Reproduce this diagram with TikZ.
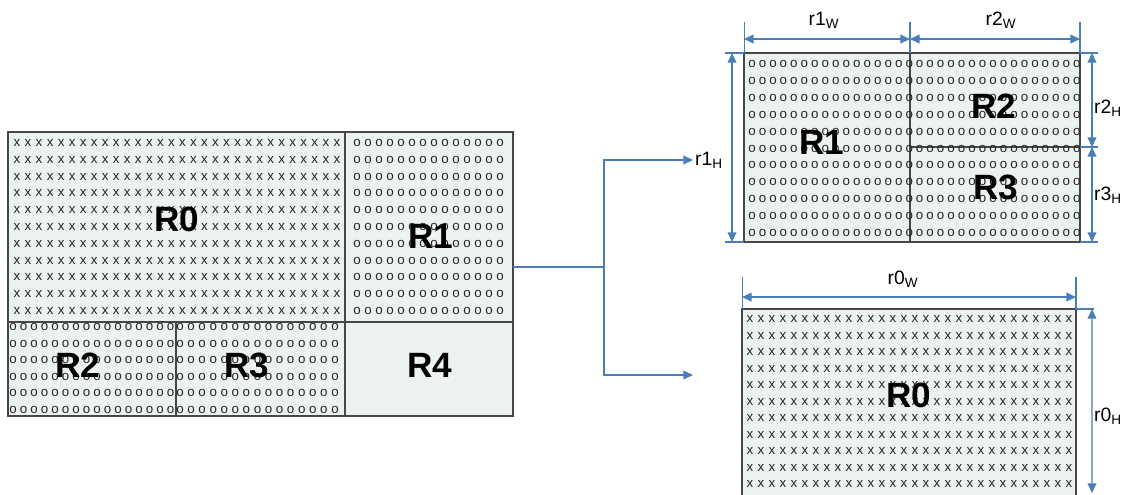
\documentclass[tikz,border=0pt]{standalone}
\usepackage{fontspec}
\setmainfont{Liberation Sans}
\usetikzlibrary{arrows.meta,positioning}
\definecolor{cellfill}{HTML}{ECF1F1}
\definecolor{cellline}{HTML}{474747}
\definecolor{dimblue}{HTML}{4A7EBB}

\begin{document}
\begin{tikzpicture}[
  x=0.02cm, y=-0.02cm,
  region/.style={draw=cellline, line width=1pt, fill=cellfill, inner sep=0pt, outer sep=0pt},
  glyph/.style={inner sep=0pt, font=\fontsize{7.6}{8}\selectfont, text=black!85},
  big/.style={font=\fontsize{20}{22}\selectfont\bfseries, inner sep=0pt},
  dimtext/.style={font=\fontsize{11}{13}\selectfont, inner sep=1pt},
  ext/.style={draw=dimblue, line width=0.6pt},
  dim/.style={draw=dimblue, line width=0.8pt, {Triangle[length=5.5pt,width=5pt]}-{Triangle[length=5.5pt,width=5pt]}},
  link/.style={draw=dimblue, line width=0.8pt},
  arrow/.style={link, -{Triangle[length=5.5pt,width=5pt]}},
]
\clip (0,0) rectangle (1124,494);

% === Whole region (left) ===
\node[region, minimum width=6.74cm, minimum height=3.8cm] (L0) at (176.5,227) {};
\node[region, minimum width=3.36cm, minimum height=3.8cm] (L1) at (429,227) {};
\node[region, minimum width=3.36cm, minimum height=1.88cm] (L2) at (92,369) {};
\node[region, minimum width=3.38cm, minimum height=1.88cm] (L3) at (260.5,369) {};
\node[region, minimum width=3.36cm, minimum height=1.88cm] (L4) at (429,369) {};

\foreach \i in {0,...,29} \foreach \j in {0,...,10}
  \node[glyph] (a-\i-\j) at ({17+\i*11.03},{143+\j*16.8}) {x};
\foreach \i in {0,...,13} \foreach \j in {0,...,10}
  \node[glyph] (b-\i-\j) at ({357+\i*11},{143+\j*16.8}) {o};
\foreach \i in {0,...,15} \foreach \j in {0,...,5}
  \node[glyph] (c-\i-\j) at ({13+\i*10.5},{327+\j*16.6}) {o};
\foreach \i in {0,...,14} \foreach \j in {0,...,5}
  \node[glyph] (d-\i-\j) at ({180+\i*11.07},{327+\j*16.6}) {o};

\node[big] (l0) at (177,219) {R0};
\node[big] (l1) at (431,236) {R1};
\node[big] (l2) at (78,365) {R2};
\node[big] (l3) at (247,365) {R3};
\node[big] (l4) at (430,365) {R4};

% === Split R1 (top right) ===
\node[region, minimum width=3.32cm, minimum height=3.78cm] (T1) at (827,147.5) {};
\node[region, minimum width=3.40cm, minimum height=1.88cm] (T2) at (995,100) {};
\node[region, minimum width=3.40cm, minimum height=1.90cm] (T3) at (995,194.5) {};

\foreach \i in {0,...,31} \foreach \j in {0,...,10}
  \node[glyph] (e-\i-\j) at ({752+\i*10.48},{64+\j*16.9}) {o};

\node[big] (t1) at (822,142) {R1};
\node[big] (t2) at (994,106) {R2};
\node[big] (t3) at (996,187) {R3};

\draw[ext] (T1.north west) -- ++(0,-31);
\draw[ext] (T1.north east) -- ++(0,-31);
\draw[ext] (T2.north east) -- ++(0,-31);
\draw[dim] ([yshift=0.28cm]T1.north west) -- ([yshift=0.28cm]T1.north east);
\draw[dim] ([yshift=0.28cm]T2.north west) -- ([yshift=0.28cm]T2.north east);
\node[dimtext] (r1W) at (824,20) {r1\textsubscript{W}};
\node[dimtext] (r2W) at (1001,20) {r2\textsubscript{W}};

\draw[ext] (T1.north west) -- ++(-19,0);
\draw[ext] (T1.south west) -- ++(-19,0);
\draw[dim] ([xshift=-0.24cm]T1.north west) -- ([xshift=-0.24cm]T1.south west);
\node[dimtext, anchor=west] (r1H) at (693,160) {r1\textsubscript{H}};

\draw[ext] (T2.north east) -- ++(18,0);
\draw[ext] (T2.south east) -- ++(18,0);
\draw[ext] (T3.south east) -- ++(18,0);
\draw[dim] ([xshift=0.24cm]T2.north east) -- ([xshift=0.24cm]T2.south east);
\draw[dim] ([xshift=0.24cm]T3.north east) -- ([xshift=0.24cm]T3.south east);
\node[dimtext] (r2H) at (1108,108) {r2\textsubscript{H}};
\node[dimtext] (r3H) at (1108,195) {r3\textsubscript{H}};

% === R0 alone (bottom right) ===
\node[region, minimum width=6.68cm, minimum height=3.82cm] (B0) at (909,404.5) {};
\foreach \i in {0,...,29} \foreach \j in {0,...,10}
  \node[glyph] (f-\i-\j) at ({750+\i*11},{319+\j*16.5}) {x};
\node[big] (b0) at (909,395) {R0};

\draw[ext] (B0.north west) -- ++(0,-32);
\draw[ext] (B0.north east) -- ++(0,-32);
\draw[dim] ([yshift=0.24cm]B0.north west) -- ([yshift=0.24cm]B0.north east);
\node[dimtext] (r0W) at (903,279) {r0\textsubscript{W}};

\coordinate (r0end) at (1092,493);
\draw[ext] (B0.north east) -- ++(18,0);
\draw[dim] ([xshift=0.32cm]B0.north east) -- (r0end);
\node[dimtext] (r0H) at (1108,416) {r0\textsubscript{H}};

% === Connector ===
\coordinate (split) at (604,267);
\coordinate (toR0) at (693,375);
\draw[link] (L1.east |- split) -- (split);
\draw[arrow] (split) |- (r1H.west);
\draw[arrow] (split) |- (toR0);

\end{tikzpicture}
\end{document}
